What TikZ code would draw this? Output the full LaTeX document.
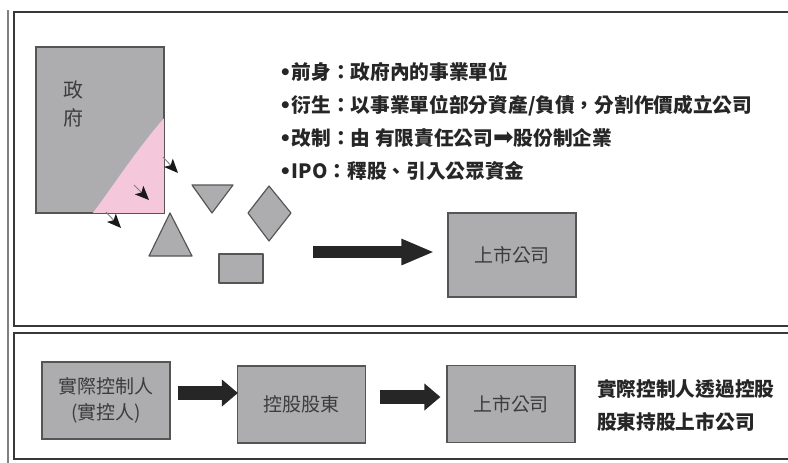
\documentclass[tikz,border=0pt]{standalone}
\usepackage{fontspec}
\newfontfamily\cjk{Noto Sans CJK TC}
\newfontfamily\symb{DejaVu Sans}
\usetikzlibrary{arrows.meta, calc, positioning}
\definecolor{boxgray}{HTML}{ADADB0}
\definecolor{govpink}{HTML}{F4C8DA}
\definecolor{edgegray}{HTML}{555555}
\definecolor{inkgray}{HTML}{3C3C3C}
\definecolor{inkdark}{HTML}{262626}
\tikzset{
  blockbox/.style = {draw=edgegray, fill=boxgray, line width=1pt, inner sep=0pt,
    minimum width=3.84cm, minimum height=2.31cm, align=center,
    font=\cjk\fontsize{16.2}{22}\selectfont, text=inkgray},% gray box
  shapebit/.style = {draw=edgegray, fill=boxgray, line width=1pt, line join=round},% small shapes
  fatarrow/.style = {draw=inkdark, line width=0.36cm,
    -{Triangle[length=0.99cm,width=0.72cm]}},% big arrow
  fatarrowlow/.style = {draw=inkdark, line width=0.42cm,
    -{Triangle[length=0.48cm,width=0.78cm]}},% bottom arrows
  tinyarrow/.style = {draw=gray, line width=0.8pt,
    -{Stealth[length=0.42cm,width=0.36cm,inset=0.1cm,color=black!90]}},% small arrows
  frame/.style = {draw=black!78, line width=2pt},
  notes/.style = {align=left, anchor=west, inner sep=0pt, text=inkdark,
    font=\cjk\bfseries\fontsize{16.8}{28.2}\selectfont}% bullet text
}

\begin{document}
\begin{tikzpicture}[x=0.03cm, y=-0.03cm, >=Stealth]
\useasboundingbox (0,0) rectangle (788,462);
\clip (0,0) rectangle (788,462);
% frames
\draw[gray, line width=1.2pt] (8,10) -- (8,470);
\draw[frame] (14,12) rectangle (800,326);
\draw[frame] (14,333) rectangle (800,459);

% government box
\node[blockbox, minimum height=4.98cm] (gov) at (100,130) {};
\fill[govpink] ($(gov.south west)+(57,0)$) .. controls ($(gov.south west)+(76,-25)$)
  and ($(gov.south east)+(-29,-63)$) .. ($(gov.south east)+(0,-96)$) -- (gov.south east) -- cycle;
\draw[draw=edgegray, line width=1pt] (gov.south west) rectangle (gov.north east);
\node[font=\cjk\fontsize{17}{23.9}\selectfont, text=inkgray, align=center] (govname) at (73,104) {政\\府};

\draw[tinyarrow] (163,157) -- (178,173);
\draw[tinyarrow] (134,185) -- (149,200);
\draw[tinyarrow] (106,212) -- (121,228);

% pieces
\draw[shapebit] (192,185) -- (233,185) -- (212,213) -- cycle;
\draw[shapebit] (269,186) -- (291,213) -- (269,241) -- (248,213) -- cycle;
\draw[shapebit] (170,213) -- (192,256) -- (149,256) -- cycle;
\draw[shapebit] (219,254) rectangle (263,283);

\node[notes] (points) at (279,121.5) {{\symb •}前身：政府內的事業單位\\
  {\symb •}衍生：以事業單位部分資產/負債，分割作價成立公司\\
  {\symb •}改制：由 有限責任公司{\symb\mdseries\fontsize{21}{28.2}\selectfont ➡}股份制企業\\
  {\symb •}IPO：釋股、引入公眾資金};

\node[blockbox, minimum height=2.52cm] (listed) at (512,255) {上市公司};
\coordinate (flow) at (313,252);
\draw[fatarrow] (flow) -- ($(flow -| listed.west)+(-13,0)$);

% bottom row
\node[blockbox] (ctrl) at (106,400.5) {實際控制人\\(實控人)};
\node[blockbox] (hold) at (301.5,404.5) {控股股東};
\node[blockbox] (listedlow) at (511,404) {上市公司};
\draw[fatarrowlow] ($(ctrl.east)+(7,-7.5)$) -- ($(hold.west)+(1,-11.5)$);
\draw[fatarrowlow] ($(hold.east)+(14,-7.5)$) -- ($(listedlow.west)+(-6,-7)$);

\node[notes] (summary) at (597,405.5) {實際控制人透過控股\\股東持股上市公司};
\end{tikzpicture}
\end{document}
